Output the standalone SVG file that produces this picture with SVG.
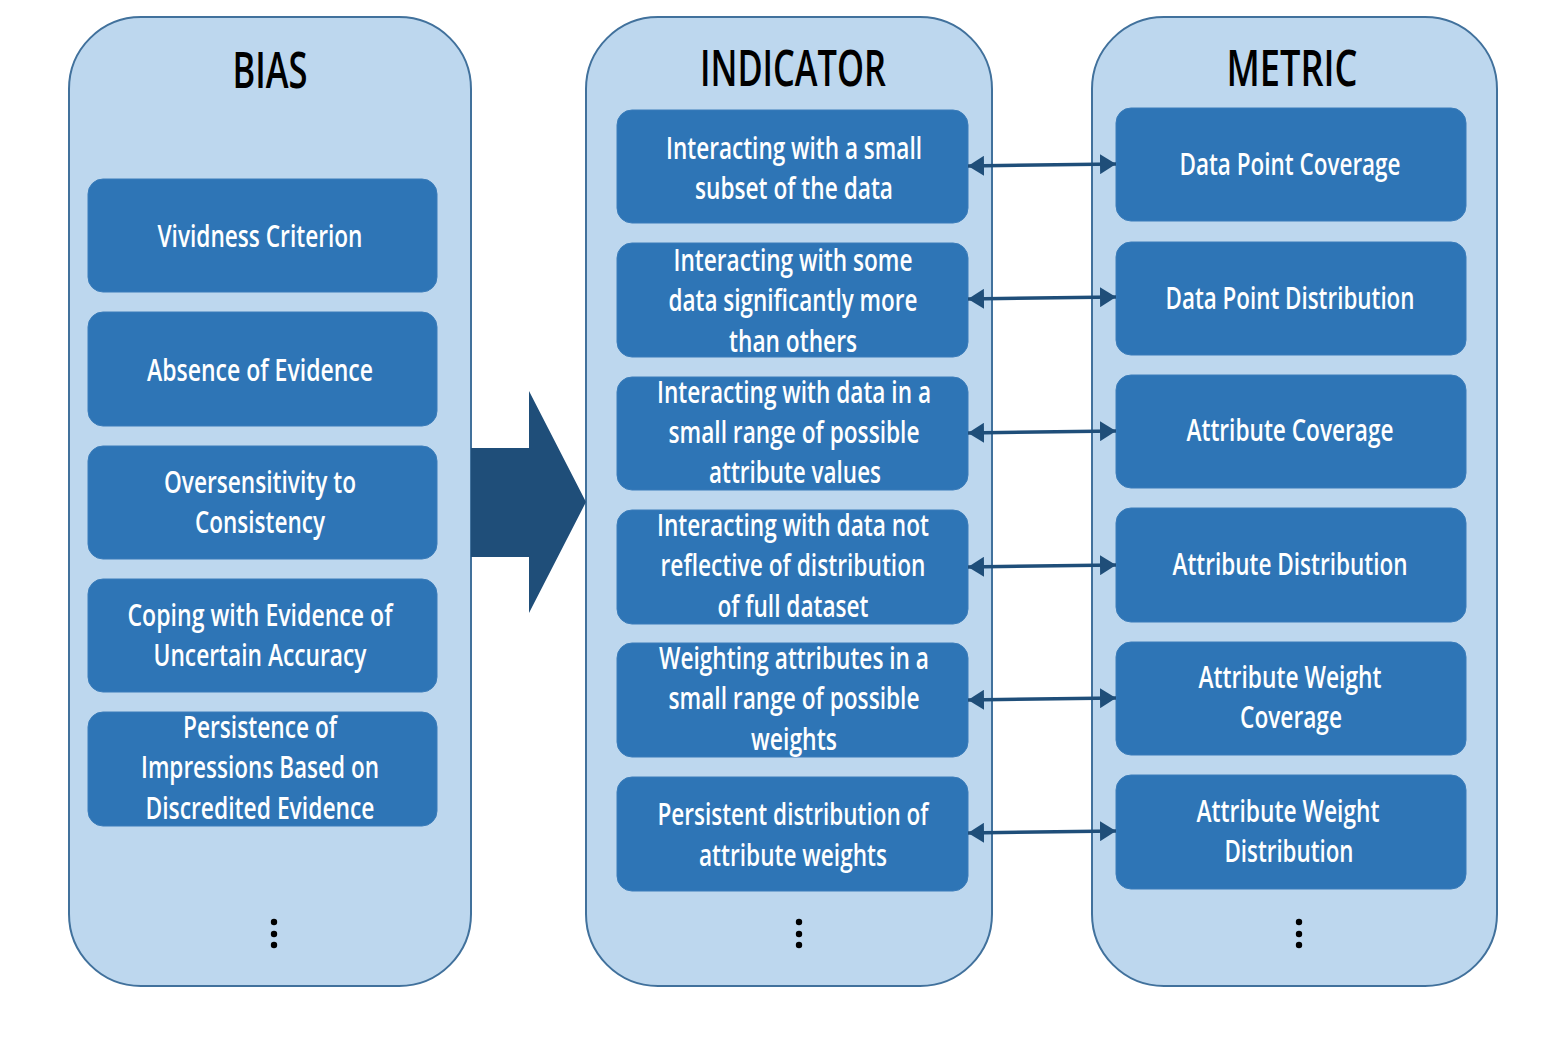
<svg xmlns="http://www.w3.org/2000/svg" width="1558" height="1038" viewBox="0 0 1558 1038">
<defs>
<style>
.panel{fill:#BDD7EE;stroke:#41719C;stroke-width:2}
.node{fill:#2E75B6;stroke:#3A7CBA;stroke-width:1}
.title{font-family:"Open Sans","Liberation Sans",sans-serif;font-size:50px;font-weight:600;fill:#000;text-anchor:middle}
.lbl{font-family:"Open Sans","Liberation Sans",sans-serif;font-size:31px;font-weight:600;fill:#fff;text-anchor:middle}
.conn{stroke:#1F4E79;stroke-width:3.5;fill:none}
.dot{fill:#000}
</style>
<marker id="ah" viewBox="0 0 16 20" refX="16" refY="10" markerWidth="16" markerHeight="20" markerUnits="userSpaceOnUse" orient="auto-start-reverse">
<path d="M0,0 L16,10 L0,20 Z" fill="#1F4E79"/>
</marker>
</defs>
<rect width="1558" height="1038" fill="#fff"/>

<g id="panel-bias">
<rect class="panel" x="69" y="17" width="402" height="969" rx="72"/>
<text class="title" x="270" y="88" textLength="75" lengthAdjust="spacingAndGlyphs">BIAS</text>
<circle class="dot" cx="274" cy="922" r="3.2"/><circle class="dot" cx="274" cy="934" r="3.2"/><circle class="dot" cx="274" cy="945" r="3.2"/>
</g>
<g id="panel-indicator">
<rect class="panel" x="586" y="17" width="406" height="969" rx="72"/>
<text class="title" x="793" y="86" textLength="186" lengthAdjust="spacingAndGlyphs">INDICATOR</text>
<circle class="dot" cx="799" cy="922" r="3.2"/><circle class="dot" cx="799" cy="934" r="3.2"/><circle class="dot" cx="799" cy="945" r="3.2"/>
</g>
<g id="panel-metric">
<rect class="panel" x="1092" y="17" width="405" height="969" rx="72"/>
<text class="title" x="1292" y="86" textLength="131" lengthAdjust="spacingAndGlyphs">METRIC</text>
<circle class="dot" cx="1299" cy="922" r="3.2"/><circle class="dot" cx="1299" cy="934" r="3.2"/><circle class="dot" cx="1299" cy="945" r="3.2"/>
</g>

<g id="big-arrow">
<polygon points="471,448 529,448 529,391 586,502 529,613 529,557 471,557" fill="#1F4E79"/>
</g>

<g id="bias-1"><rect class="node" x="88" y="179" width="349" height="113" rx="15"/>
<text class="lbl" x="260" y="247" textLength="205" lengthAdjust="spacingAndGlyphs">Vividness Criterion</text></g>
<g id="bias-2"><rect class="node" x="88" y="312" width="349" height="114" rx="15"/>
<text class="lbl" x="260" y="381" textLength="226" lengthAdjust="spacingAndGlyphs">Absence of Evidence</text></g>
<g id="bias-3"><rect class="node" x="88" y="446" width="349" height="113" rx="15"/>
<text class="lbl" x="260" y="493" textLength="192" lengthAdjust="spacingAndGlyphs">Oversensitivity to</text>
<text class="lbl" x="260" y="533" textLength="130" lengthAdjust="spacingAndGlyphs">Consistency</text></g>
<g id="bias-4"><rect class="node" x="88" y="579" width="349" height="113" rx="15"/>
<text class="lbl" x="260" y="626" textLength="265" lengthAdjust="spacingAndGlyphs">Coping with Evidence of</text>
<text class="lbl" x="260" y="666" textLength="213" lengthAdjust="spacingAndGlyphs">Uncertain Accuracy</text></g>
<g id="bias-5"><rect class="node" x="88" y="712" width="349" height="114" rx="15"/>
<text class="lbl" x="260" y="738" textLength="154" lengthAdjust="spacingAndGlyphs">Persistence of</text>
<text class="lbl" x="260" y="778" textLength="238" lengthAdjust="spacingAndGlyphs">Impressions Based on</text>
<text class="lbl" x="260" y="819" textLength="229" lengthAdjust="spacingAndGlyphs">Discredited Evidence</text></g>

<g id="ind-1"><rect class="node" x="617" y="110" width="351" height="113" rx="15"/>
<text class="lbl" x="794" y="159" textLength="256" lengthAdjust="spacingAndGlyphs">Interacting with a small</text>
<text class="lbl" x="794" y="199" textLength="198" lengthAdjust="spacingAndGlyphs">subset of the data</text></g>
<g id="ind-2"><rect class="node" x="617" y="243" width="351" height="114" rx="15"/>
<text class="lbl" x="793" y="271" textLength="239" lengthAdjust="spacingAndGlyphs">Interacting with some</text>
<text class="lbl" x="793" y="311" textLength="249" lengthAdjust="spacingAndGlyphs">data significantly more</text>
<text class="lbl" x="793" y="352" textLength="128" lengthAdjust="spacingAndGlyphs">than others</text></g>
<g id="ind-3"><rect class="node" x="617" y="377" width="351" height="113" rx="15"/>
<text class="lbl" x="794" y="403" textLength="274" lengthAdjust="spacingAndGlyphs">Interacting with data in a</text>
<text class="lbl" x="794" y="443" textLength="251" lengthAdjust="spacingAndGlyphs">small range of possible</text>
<text class="lbl" x="795" y="483" textLength="172" lengthAdjust="spacingAndGlyphs">attribute values</text></g>
<g id="ind-4"><rect class="node" x="617" y="510" width="351" height="114" rx="15"/>
<text class="lbl" x="793" y="536" textLength="272" lengthAdjust="spacingAndGlyphs">Interacting with data not</text>
<text class="lbl" x="793" y="576" textLength="265" lengthAdjust="spacingAndGlyphs">reflective of distribution</text>
<text class="lbl" x="793" y="617" textLength="151" lengthAdjust="spacingAndGlyphs">of full dataset</text></g>
<g id="ind-5"><rect class="node" x="617" y="643" width="351" height="114" rx="15"/>
<text class="lbl" x="794" y="669" textLength="270" lengthAdjust="spacingAndGlyphs">Weighting attributes in a</text>
<text class="lbl" x="794" y="709" textLength="251" lengthAdjust="spacingAndGlyphs">small range of possible</text>
<text class="lbl" x="794" y="750" textLength="86" lengthAdjust="spacingAndGlyphs">weights</text></g>
<g id="ind-6"><rect class="node" x="617" y="777" width="351" height="114" rx="15"/>
<text class="lbl" x="793" y="825" textLength="271" lengthAdjust="spacingAndGlyphs">Persistent distribution of</text>
<text class="lbl" x="793" y="866" textLength="188" lengthAdjust="spacingAndGlyphs">attribute weights</text></g>

<g id="met-1"><rect class="node" x="1116" y="108" width="350" height="113" rx="15"/>
<text class="lbl" x="1290" y="175" textLength="221" lengthAdjust="spacingAndGlyphs">Data Point Coverage</text></g>
<g id="met-2"><rect class="node" x="1116" y="242" width="350" height="113" rx="15"/>
<text class="lbl" x="1290" y="309" textLength="249" lengthAdjust="spacingAndGlyphs">Data Point Distribution</text></g>
<g id="met-3"><rect class="node" x="1116" y="375" width="350" height="113" rx="15"/>
<text class="lbl" x="1290" y="441" textLength="207" lengthAdjust="spacingAndGlyphs">Attribute Coverage</text></g>
<g id="met-4"><rect class="node" x="1116" y="508" width="350" height="114" rx="15"/>
<text class="lbl" x="1290" y="575" textLength="235" lengthAdjust="spacingAndGlyphs">Attribute Distribution</text></g>
<g id="met-5"><rect class="node" x="1116" y="642" width="350" height="113" rx="15"/>
<text class="lbl" x="1290" y="688" textLength="183" lengthAdjust="spacingAndGlyphs">Attribute Weight</text>
<text class="lbl" x="1291" y="728" textLength="102" lengthAdjust="spacingAndGlyphs">Coverage</text></g>
<g id="met-6"><rect class="node" x="1116" y="775" width="350" height="114" rx="15"/>
<text class="lbl" x="1288" y="822" textLength="183" lengthAdjust="spacingAndGlyphs">Attribute Weight</text>
<text class="lbl" x="1289" y="862" textLength="129" lengthAdjust="spacingAndGlyphs">Distribution</text></g>

<g id="connectors">
<line class="conn" x1="968" y1="166" x2="1116" y2="164" marker-start="url(#ah)" marker-end="url(#ah)"/>
<line class="conn" x1="968" y1="299" x2="1116" y2="297" marker-start="url(#ah)" marker-end="url(#ah)"/>
<line class="conn" x1="968" y1="433" x2="1116" y2="431" marker-start="url(#ah)" marker-end="url(#ah)"/>
<line class="conn" x1="968" y1="567" x2="1116" y2="565" marker-start="url(#ah)" marker-end="url(#ah)"/>
<line class="conn" x1="968" y1="700" x2="1116" y2="698" marker-start="url(#ah)" marker-end="url(#ah)"/>
<line class="conn" x1="968" y1="833" x2="1116" y2="831" marker-start="url(#ah)" marker-end="url(#ah)"/>
</g>
</svg>
